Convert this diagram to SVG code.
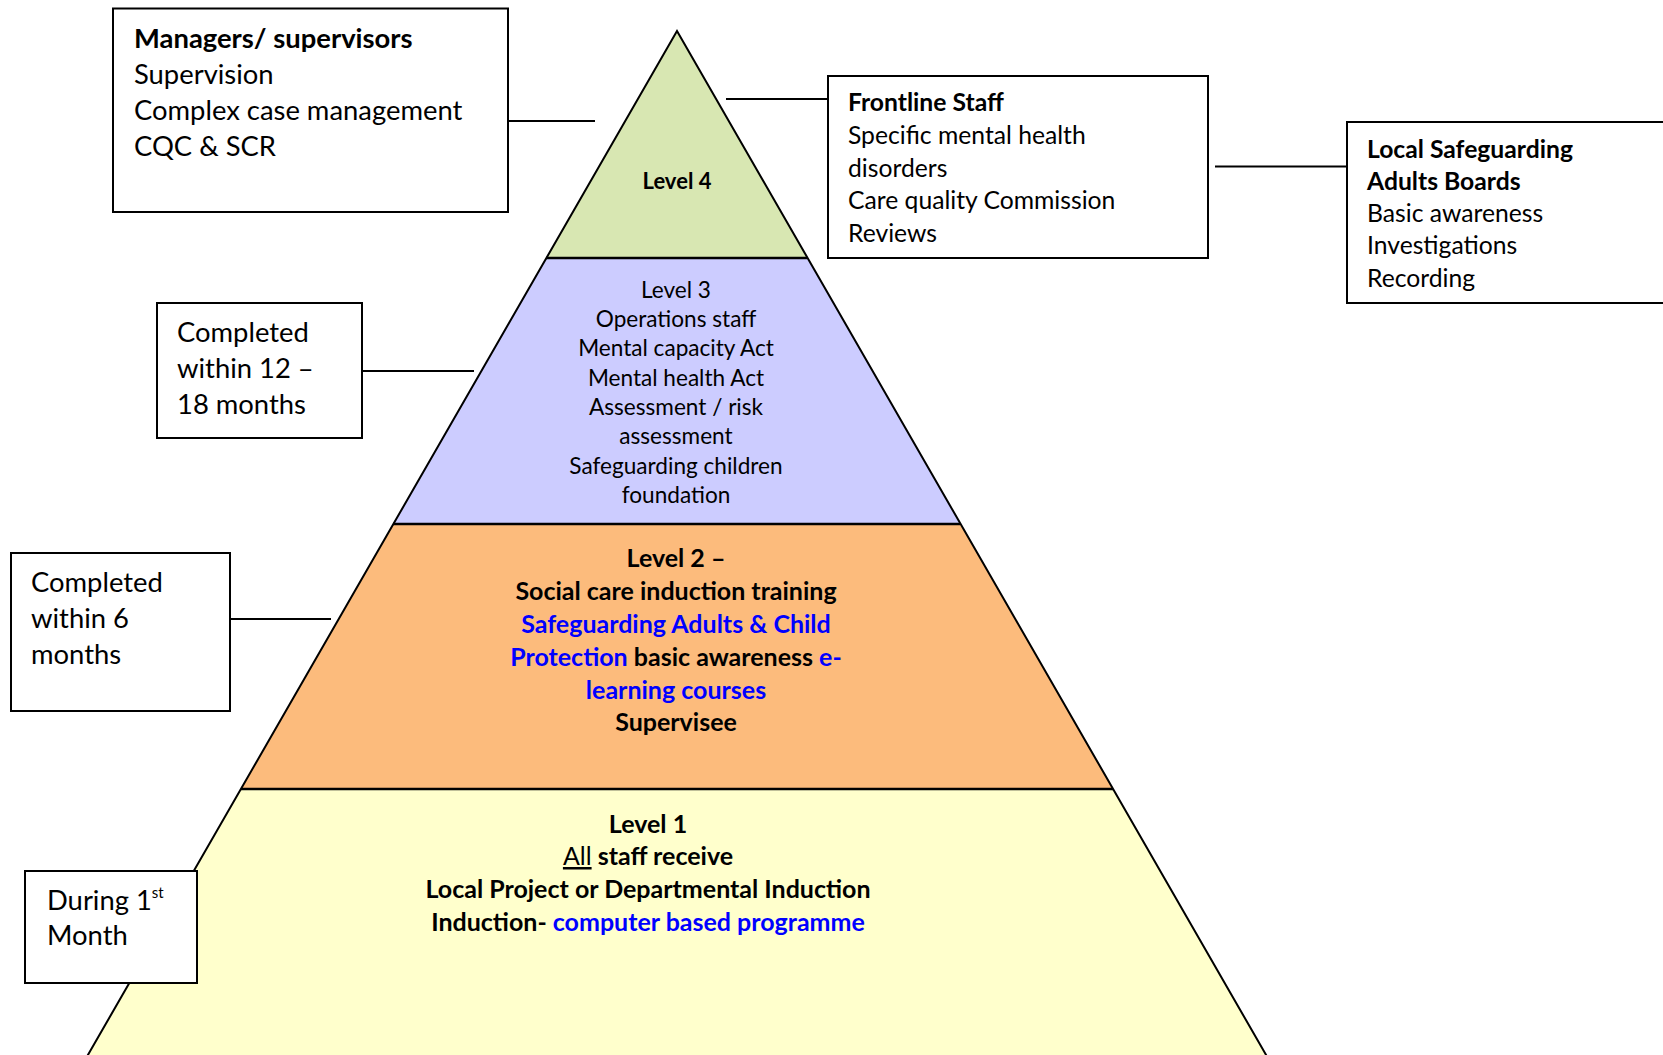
<svg xmlns="http://www.w3.org/2000/svg" width="1663" height="1055" viewBox="0 0 1663 1055">
<style>
text{font-family:Lato,"Open Sans","Liberation Sans",sans-serif;fill:#000}
.b{font-weight:bold}
.blue{fill:#0000ff}
.box{fill:#fff;stroke:#000;stroke-width:2}
.conn{stroke:#000;stroke-width:2;fill:none}
.big{font-size:27.4px}
.med{font-size:24.7px}
.l3{font-size:22.6px;text-anchor:middle}
.l2{font-size:25px;font-weight:bold;text-anchor:middle}
</style>
<rect width="1663" height="1055" fill="#fff"/>
<g id="pyramid">
<polygon points="677,31 807,258 546,258" fill="#d8e7b2"/>
<polygon points="546,258 807,258 960,524 393,524" fill="#ccccff"/>
<polygon points="393,524 960,524 1113,789 241,789" fill="#fcbb7c"/>
<polygon points="241,789 1113,789 1292,1100 62,1100" fill="#ffffcc"/>
<polyline points="62,1100 677,31 1292,1100" fill="none" stroke="#000" stroke-width="2"/>
<line x1="546" y1="258" x2="807" y2="258" stroke="#000" stroke-width="2.5"/>
<line x1="393" y1="524" x2="960" y2="524" stroke="#000" stroke-width="2.5"/>
<line x1="241" y1="789" x2="1113" y2="789" stroke="#000" stroke-width="2.5"/>
</g>
<g id="level4">
<text x="677" y="189" class="b" font-size="22" text-anchor="middle">Level 4</text>
</g>
<g id="level3">
<text class="l3" x="676" y="298">Level 3</text>
<text class="l3" x="676" y="327">Operations staff</text>
<text class="l3" x="676" y="356">Mental capacity Act</text>
<text class="l3" x="676" y="386">Mental health Act</text>
<text class="l3" x="676" y="415">Assessment / risk</text>
<text class="l3" x="676" y="444">assessment</text>
<text class="l3" x="676" y="474">Safeguarding children</text>
<text class="l3" x="676" y="503">foundation</text>
</g>
<g id="level2">
<text class="l2" x="676" y="567">Level 2 –</text>
<text class="l2" x="676" y="600">Social care induction training</text>
<text class="l2 blue" x="676" y="633">Safeguarding Adults &amp; Child</text>
<text class="l2" x="676" y="666"><tspan class="blue">Protection</tspan> basic awareness <tspan class="blue">e-</tspan></text>
<text class="l2 blue" x="676" y="699">learning courses</text>
<text class="l2" x="676" y="731">Supervisee</text>
</g>
<g id="level1">
<text class="l2" x="648" y="833">Level 1</text>
<text class="l2" x="648" y="865"><tspan text-decoration="underline" style="font-weight:normal">All</tspan> staff receive</text>
<text class="l2" x="648" y="898">Local Project or Departmental Induction</text>
<text class="l2" x="648" y="931">Induction- <tspan class="blue">computer based programme</tspan></text>
</g>
<g id="connectors">
<line class="conn" x1="508" y1="121" x2="595" y2="121"/>
<line class="conn" x1="726" y1="99" x2="828" y2="99"/>
<line class="conn" x1="1215" y1="166.5" x2="1347" y2="166.5"/>
<line class="conn" x1="362" y1="371" x2="474" y2="371"/>
<line class="conn" x1="230" y1="619" x2="331" y2="619"/>
</g>
<g id="managers">
<rect class="box" x="113" y="8.5" width="395" height="203.5"/>
<text class="big" x="134" y="48"><tspan class="b">Managers/ supervisors</tspan></text>
<text class="big" x="134" y="84">Supervision</text>
<text class="big" x="134" y="120">Complex case management</text>
<text class="big" x="134" y="156">CQC &amp; SCR</text>
</g>
<g id="frontline">
<rect class="box" x="828" y="76" width="380" height="182"/>
<text class="med b" x="848" y="111">Frontline Staff</text>
<text class="med" x="848" y="144">Specific mental health</text>
<text class="med" x="848" y="177">disorders</text>
<text class="med" x="848" y="209">Care quality Commission</text>
<text class="med" x="848" y="242">Reviews</text>
</g>
<g id="local">
<rect class="box" x="1347" y="122" width="330" height="181"/>
<text class="med b" x="1367" y="158">Local Safeguarding</text>
<text class="med b" x="1367" y="190">Adults Boards</text>
<text class="med" x="1367" y="222">Basic awareness</text>
<text class="med" x="1367" y="254">Investigations</text>
<text class="med" x="1367" y="287">Recording</text>
</g>
<g id="completed12">
<rect class="box" x="157" y="303" width="205" height="135"/>
<text class="big" x="177" y="342">Completed</text>
<text class="big" x="177" y="378">within 12 –</text>
<text class="big" x="177" y="414">18 months</text>
</g>
<g id="completed6">
<rect class="box" x="11" y="553" width="219" height="158"/>
<text class="big" x="31" y="592">Completed</text>
<text class="big" x="31" y="628">within 6</text>
<text class="big" x="31" y="664">months</text>
</g>
<g id="during">
<rect class="box" x="25" y="871" width="172" height="112"/>
<text class="big" x="47" y="910">During 1<tspan font-size="15" dy="-12">st</tspan></text>
<text class="big" x="47" y="945">Month</text>
</g>
</svg>
